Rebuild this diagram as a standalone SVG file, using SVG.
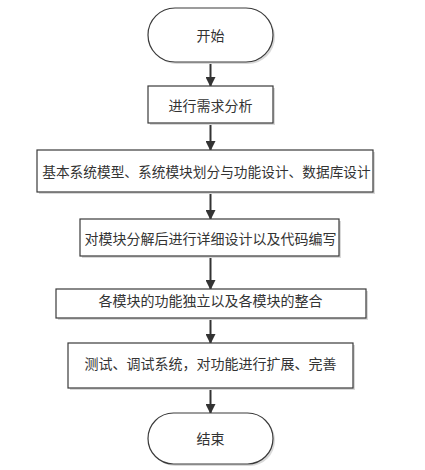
<svg xmlns="http://www.w3.org/2000/svg" width="425" height="470" viewBox="0 0 425 470">
<defs>
<style>
.sh{fill:#d9d9d9;stroke:none}
.bx{fill:#fff;stroke:#3a3a3a;stroke-width:1.2}
.t{font-family:"Noto Sans CJK SC","Noto Sans",sans-serif;font-size:14px;fill:#333;text-anchor:middle;dominant-baseline:central}
.ln{stroke:#333;stroke-width:2;fill:none}
</style>
<marker id="ah" markerWidth="10" markerHeight="10" refX="9" refY="5" orient="auto" markerUnits="userSpaceOnUse">
<path d="M0,0 L10,5 L0,10 Z" fill="#333"/>
</marker>
</defs>
<rect width="425" height="470" fill="#fff"/>
<g id="connectors">
<line class="ln" x1="210.5" y1="62" x2="210.5" y2="86" marker-end="url(#ah)"/>
<line class="ln" x1="210.5" y1="123" x2="210.5" y2="150" marker-end="url(#ah)"/>
<line class="ln" x1="210.5" y1="192" x2="210.5" y2="219" marker-end="url(#ah)"/>
<line class="ln" x1="210.5" y1="256" x2="210.5" y2="289" marker-end="url(#ah)"/>
<line class="ln" x1="210.5" y1="318" x2="210.5" y2="343" marker-end="url(#ah)"/>
<line class="ln" x1="210.5" y1="388" x2="210.5" y2="413" marker-end="url(#ah)"/>
</g>
<g id="start">
<rect class="sh" x="150" y="10" width="125" height="54" rx="27"/>
<rect class="bx" x="148" y="8" width="125" height="54" rx="27"/>
<text class="t" x="210.5" y="35">开始</text>
</g>
<g id="n1">
<rect class="sh" x="150" y="88" width="125" height="37"/>
<rect class="bx" x="148" y="86" width="125" height="37"/>
<text class="t" x="210.5" y="104.5">进行需求分析</text>
</g>
<g id="n2">
<rect class="sh" x="39" y="152" width="336" height="42"/>
<rect class="bx" x="37" y="150" width="336" height="42"/>
<text class="t" x="206.5" y="171" style="font-size:13.7px">基本系统模型、系统模块划分与功能设计、数据库设计</text>
</g>
<g id="n3">
<rect class="sh" x="82" y="221" width="259" height="37"/>
<rect class="bx" x="80" y="219" width="259" height="37"/>
<text class="t" x="210.5" y="237.5">对模块分解后进行详细设计以及代码编写</text>
</g>
<g id="n4">
<rect class="sh" x="58" y="291" width="310" height="29"/>
<rect class="bx" x="56" y="289" width="310" height="29"/>
<text class="t" x="210.5" y="300">各模块的功能独立以及各模块的整合</text>
</g>
<g id="n5">
<rect class="sh" x="70" y="345" width="285" height="45"/>
<rect class="bx" x="68" y="343" width="285" height="45"/>
<text class="t" x="210.5" y="363">测试、调试系统，对功能进行扩展、完善</text>
</g>
<g id="end">
<rect class="sh" x="150" y="415" width="125" height="51" rx="25.5"/>
<rect class="bx" x="148" y="413" width="125" height="51" rx="25.5"/>
<text class="t" x="210.5" y="438">结束</text>
</g>
</svg>
